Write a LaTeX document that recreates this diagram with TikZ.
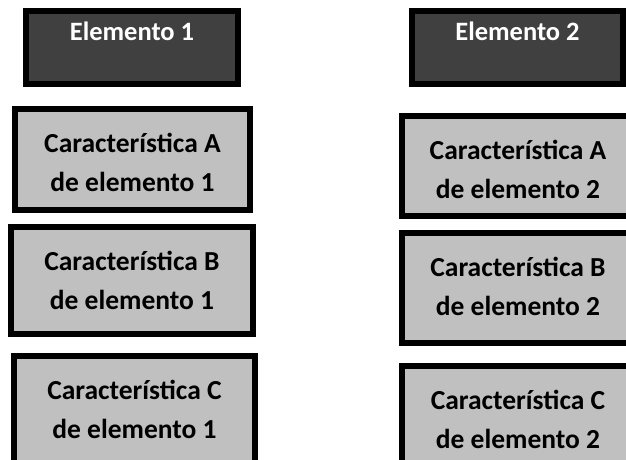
\documentclass[tikz,border=0pt]{standalone}
\usepackage{fontspec}
\setmainfont{Carlito}
\definecolor{titlegray}{HTML}{404040}
\definecolor{boxgray}{HTML}{C0C0C0}
\begin{document}
\begin{tikzpicture}[x=1pt, y=-1pt,
    box/.style={draw, line width=6pt, outer sep=3pt, anchor=north west,
        inner xsep=0pt, inner ysep=0pt, font=\bfseries},
    elem/.style={box, fill=titlegray, text=white,
        font=\fontsize{26.5}{30}\selectfont\bfseries, text height=29pt},
    carac/.style={box, fill=boxgray, align=center,
        font=\fontsize{27.5}{39}\selectfont\bfseries, text height=82pt}]
        \useasboundingbox (0,0) rectangle (626,459);
        \clip (0,0) rectangle (626,459);

        \node[elem, minimum width=212pt, text depth=44pt] (E1) at (23,8) {Elemento 1};
        \node[carac, minimum width=235pt, text depth=19pt] (A1) at (12,106) {Característica A\\de elemento 1};
        \node[carac, minimum width=242pt, text depth=25pt] (B1) at (8,224) {Característica B\\de elemento 1};
        \node[carac, minimum width=241pt, text depth=29pt] (C1) at (11,353) {Característica C\\de elemento 1};

        \node[elem, minimum width=211pt, text depth=44pt] (E2) at (409,8) {Elemento 2};
        \node[carac, minimum width=232pt, text depth=18pt] (A2) at (399,113) {Característica A\\de elemento 2};
        \node[carac, minimum width=232pt, text depth=28pt] (B2) at (399,230) {Característica B\\de elemento 2};
        \node[carac, minimum width=232pt, text depth=29pt] (C2) at (399,363) {Característica C\\de elemento 2};
\end{tikzpicture}
\end{document}
